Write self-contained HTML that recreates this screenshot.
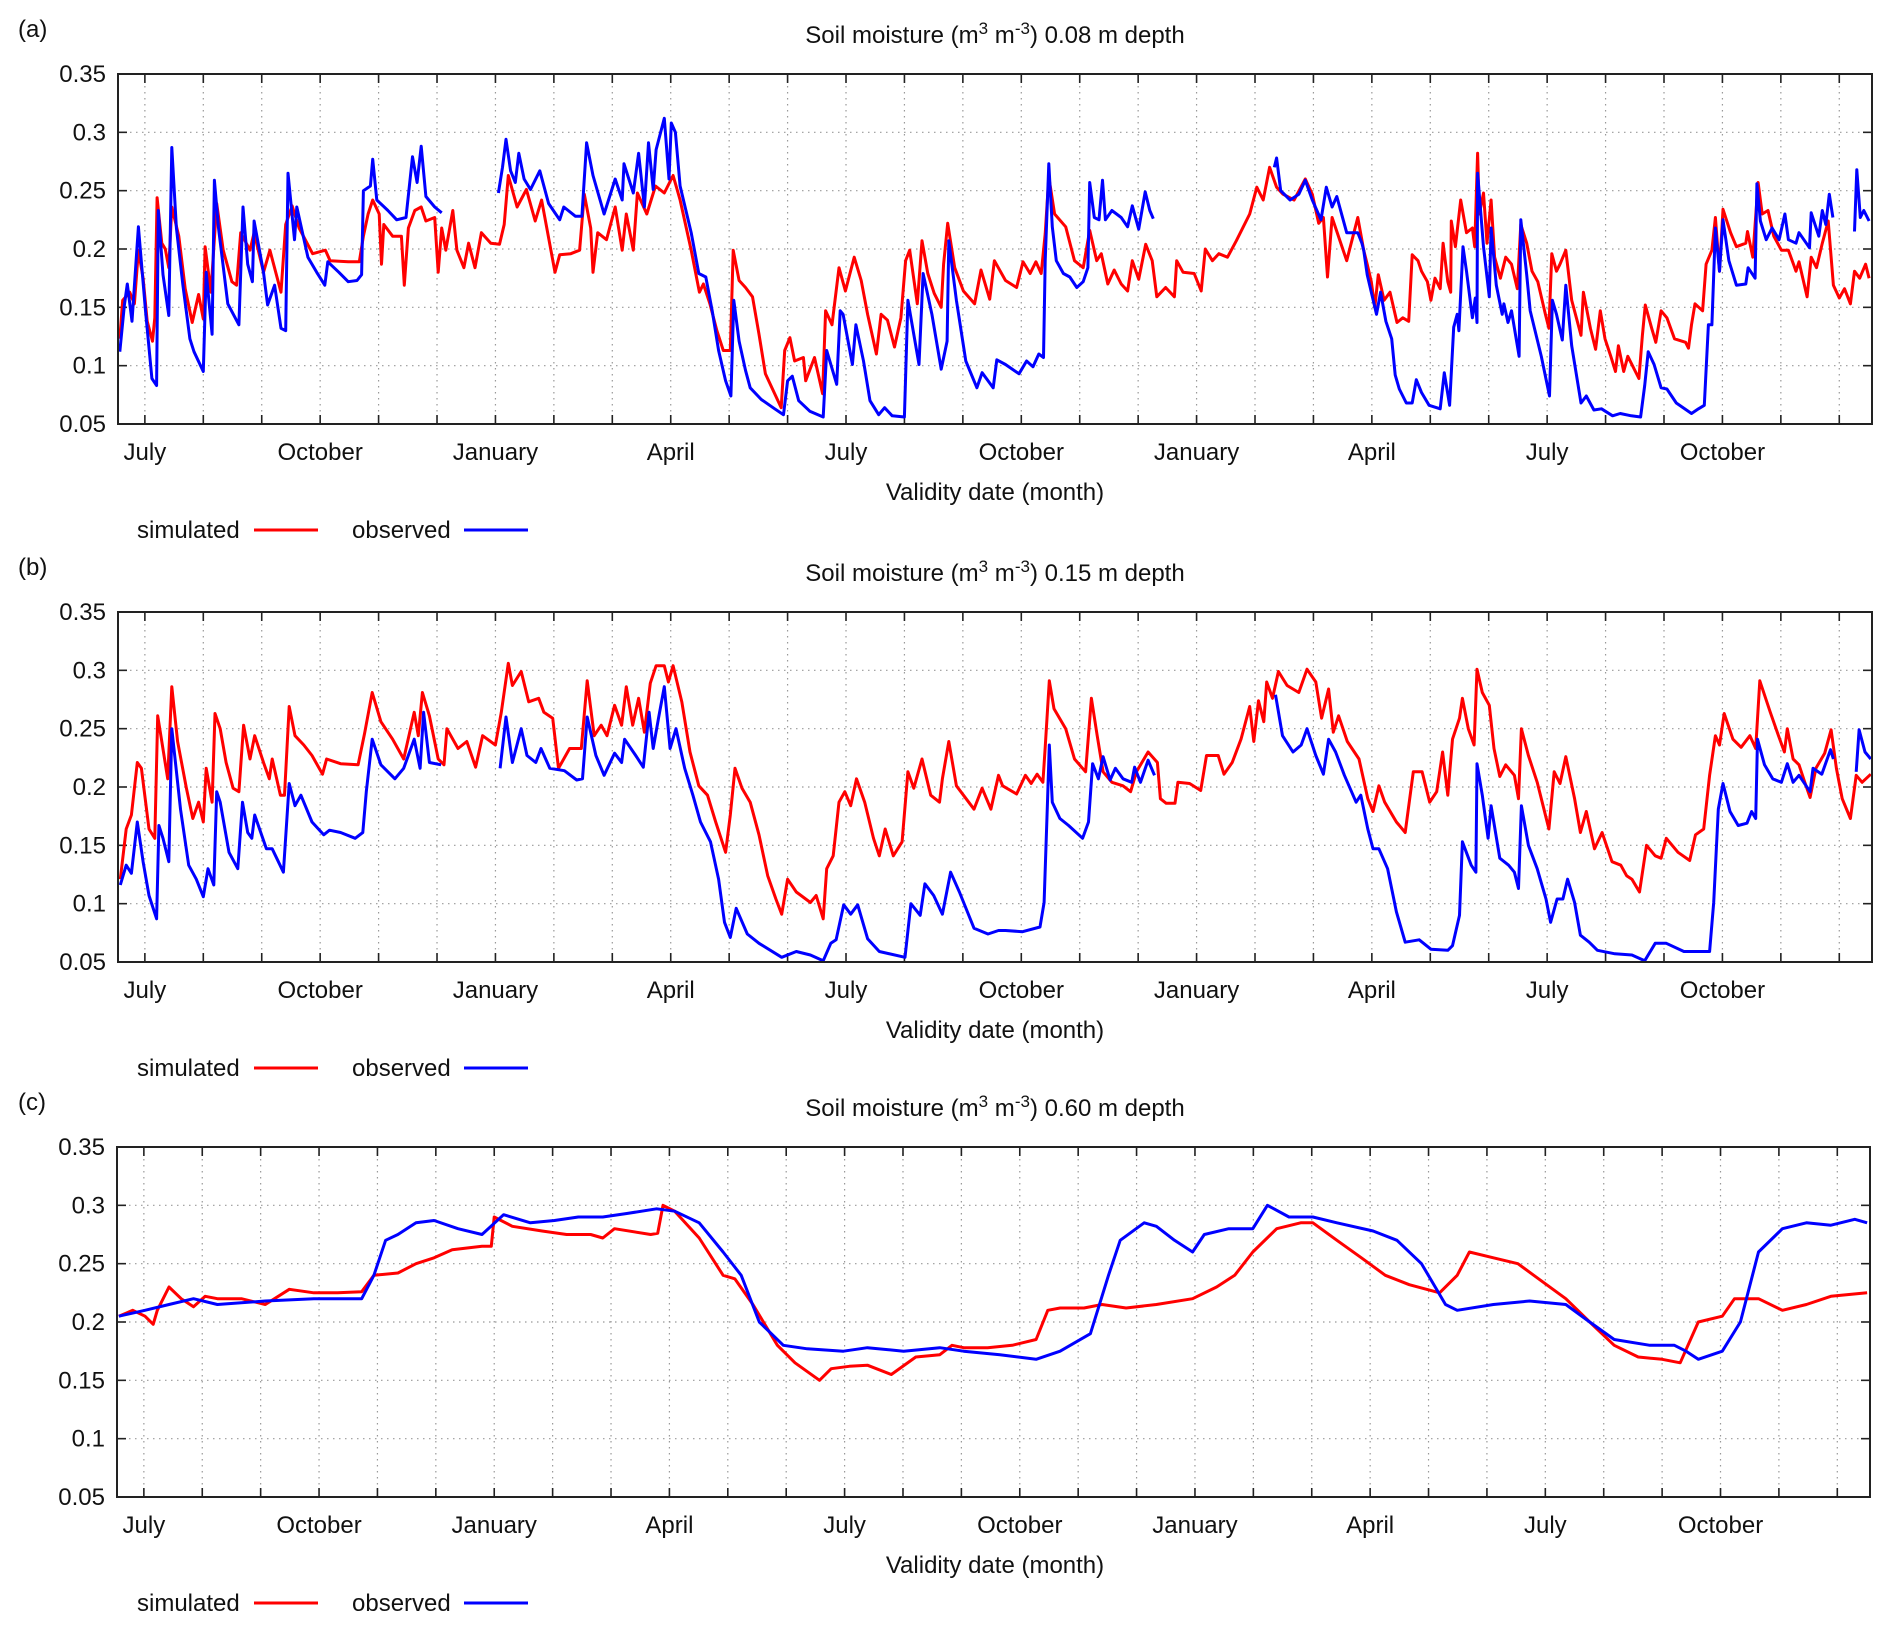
<!DOCTYPE html>
<html><head><meta charset="utf-8"><title>Soil moisture</title>
<style>
html,body{margin:0;padding:0;background:#fff;}
svg{display:block;font-family:"Liberation Sans",Arial,sans-serif;}
</style></head>
<body>
<svg id="chart" width="1892" height="1631" viewBox="0 0 1892 1631" xmlns="http://www.w3.org/2000/svg"></svg>
<script>
// ---------- data (months since 1 July of year 1, volumetric soil moisture) ----------
const monthLabels = ["July","October","January","April","July","October","January","April","July","October"];
const yTicks = [0.05,0.1,0.15,0.2,0.25,0.3,0.35];
const yTickLabels = ["0.05","0.1","0.15","0.2","0.25","0.3","0.35"];
const panelTitles = ["0.08 m depth","0.15 m depth","0.60 m depth"];
const panelLetters = ["(a)","(b)","(c)"];

const simA = [[-0.43,.123],[-0.38,.156],[-0.26,.163],[-0.18,.153],[-0.11,.199],[-0.03,.175],[0.04,.138],[0.13,.121],[0.17,.141],[0.21,.244],[0.29,.205],[0.35,.2],[0.41,.184],[0.46,.236],[0.58,.211],[0.69,.166],[0.81,.137],[0.92,.161],[1.0,.14],[1.03,.202],[1.13,.163],[1.23,.239],[1.34,.199],[1.49,.172],[1.57,.169],[1.64,.214],[1.8,.199],[1.87,.214],[2.03,.18],[2.14,.199],[2.33,.163],[2.41,.221],[2.52,.237],[2.64,.218],[2.87,.196],[3.09,.199],[3.17,.19],[3.48,.189],[3.67,.189],[3.74,.211],[3.82,.23],[3.9,.242],[4.01,.23],[4.05,.187],[4.09,.221],[4.24,.211],[4.39,.211],[4.44,.169],[4.51,.218],[4.62,.233],[4.73,.236],[4.81,.224],[4.96,.227],[5.02,.18],[5.08,.218],[5.15,.199],[5.27,.233],[5.34,.199],[5.46,.184],[5.54,.205],[5.65,.184],[5.76,.214],[5.92,.205],[6.07,.204],[6.15,.221],[6.22,.263],[6.37,.236],[6.53,.251],[6.68,.224],[6.79,.242],[7.02,.18],[7.1,.195],[7.29,.196],[7.44,.199],[7.52,.247],[7.63,.218],[7.67,.18],[7.75,.214],[7.9,.208],[8.05,.236],[8.17,.199],[8.24,.23],[8.36,.199],[8.43,.248],[8.59,.23],[8.74,.254],[8.89,.248],[9.04,.263],[9.16,.242],[9.35,.199],[9.49,.163],
[9.56,.17],[9.67,.153],[9.79,.13],[9.9,.113],[10.02,.113],[10.07,.199],[10.17,.173],[10.28,.167],[10.4,.159],[10.51,.127],[10.62,.093],[10.78,.076],[10.89,.064],[10.95,.113],[11.04,.124],[11.12,.104],[11.27,.107],[11.31,.087],[11.46,.107],[11.6,.076],[11.65,.147],[11.76,.135],[11.88,.184],[11.99,.164],[12.14,.193],[12.26,.173],[12.37,.144],[12.52,.11],[12.6,.144],[12.71,.139],[12.83,.116],[12.94,.141],[13.02,.19],[13.09,.199],[13.22,.153],[13.3,.207],[13.4,.179],[13.51,.162],[13.63,.15],[13.67,.187],[13.74,.222],[13.86,.184],[14.01,.164],[14.2,.153],[14.31,.182],[14.46,.157],[14.54,.19],[14.73,.173],[14.92,.167],[15.03,.189],[15.15,.179],[15.25,.189],[15.34,.179],[15.41,.213],[15.47,.262],[15.57,.23],[15.76,.219],[15.91,.19],[16.06,.184],[16.17,.216],[16.29,.19],[16.37,.196],[16.48,.17],[16.59,.182],[16.71,.17],[16.82,.164],[16.9,.19],[17.01,.174],[17.13,.204],[17.24,.19],[17.32,.159],[17.47,.167],[17.62,.159],[17.66,.19],[17.77,.18],[17.96,.179],[18.08,.164],[18.15,.2],[18.27,.19],[18.38,.196],[18.53,.193],[18.68,.207],[18.8,.219],[18.91,.23],[19.03,.253],[19.14,.242],[19.25,.27],[19.37,.253],[19.48,.247],[19.67,.242],[19.86,.26],[19.98,.247],[20.09,.222],[20.17,.227],[20.24,.176],[20.32,.227],[20.57,.19],
[20.76,.227],[20.86,.199],[20.92,.187],[20.99,.172],[21.05,.15],[21.11,.178],[21.21,.156],[21.31,.163],[21.43,.137],[21.53,.141],[21.63,.138],[21.69,.195],[21.79,.19],[21.85,.181],[21.95,.172],[22.01,.156],[22.08,.175],[22.17,.166],[22.22,.205],[22.3,.172],[22.35,.163],[22.36,.224],[22.43,.202],[22.52,.242],[22.62,.214],[22.72,.218],[22.76,.202],[22.81,.282],[22.84,.23],[22.91,.248],[22.97,.205],[23.04,.242],[23.1,.193],[23.2,.175],[23.29,.193],[23.39,.187],[23.49,.166],[23.55,.221],[23.65,.205],[23.74,.181],[23.84,.172],[23.97,.144],[24.03,.132],[24.08,.196],[24.16,.181],[24.22,.187],[24.32,.199],[24.42,.156],[24.58,.126],[24.62,.163],[24.74,.132],[24.83,.114],[24.91,.147],[24.99,.123],[25.09,.108],[25.17,.095],[25.22,.117],[25.31,.095],[25.38,.108],[25.51,.095],[25.57,.089],[25.63,.126],[25.68,.152],[25.79,.132],[25.86,.12],[25.95,.147],[26.05,.141],[26.18,.123],[26.37,.12],[26.42,.115],[26.47,.135],[26.53,.153],[26.66,.147],[26.72,.187],[26.82,.199],[26.88,.227],[26.95,.181],[27.01,.234],[27.14,.214],[27.24,.202],[27.4,.205],[27.43,.215],[27.52,.193],[27.61,.257],[27.68,.23],[27.78,.233],[27.88,.211],[28.01,.199],[28.13,.199],[28.26,.181],[28.31,.189],[28.45,.159],[28.52,.193],[28.61,.184],[28.71,.205],[28.81,.224],[28.9,.169],[29.0,.158],[29.09,.166],[29.19,.153],[29.26,.181],[29.35,.175],[29.45,.187],[29.51,.175]];

const obsA = [[-0.43,.112],[-0.35,.152],[-0.3,.17],[-0.22,.138],[-0.11,.219],[0.01,.147],[0.12,.089],[0.2,.083],[0.23,.233],[0.31,.178],[0.41,.143],[0.46,.287],[0.54,.218],[0.65,.169],[0.77,.123],[0.84,.112],[1.0,.095],[1.05,.18],[1.15,.127],[1.19,.259],[1.26,.218],[1.42,.153],[1.61,.135],[1.68,.236],[1.76,.187],[1.84,.172],[1.87,.224],[2.03,.18],[2.1,.152],[2.22,.169],[2.33,.132],[2.41,.13],[2.45,.265],[2.56,.208],[2.6,.236],[2.79,.193],[2.94,.18],[3.08,.169],[3.13,.189],[3.32,.18],[3.48,.172],[3.63,.173],[3.71,.178],[3.74,.25],[3.86,.254],[3.9,.277],[3.97,.242],[4.16,.233],[4.31,.225],[4.47,.227],[4.58,.279],[4.66,.257],[4.73,.288],[4.81,.245],[4.96,.236],[5.08,.231],null,
[6.05,.248],[6.12,.27],[6.18,.294],[6.26,.267],[6.34,.257],[6.4,.282],[6.49,.26],[6.6,.251],[6.76,.267],[6.91,.239],[7.1,.225],[7.17,.236],[7.37,.228],[7.48,.228],[7.56,.291],[7.67,.263],[7.86,.23],[8.05,.26],[8.17,.242],[8.2,.273],[8.36,.248],[8.45,.282],[8.55,.236],[8.62,.291],[8.7,.251],[8.75,.285],[8.89,.312],[8.97,.26],[9.01,.308],[9.08,.3],[9.16,.254],[9.35,.214],[9.48,.179],[9.6,.176],[9.71,.147],[9.82,.113],[9.94,.087],[10.03,.074],[10.08,.156],[10.17,.121],[10.28,.096],[10.36,.081],[10.55,.071],[10.78,.063],[10.93,.058],[11.0,.087],[11.08,.091],[11.19,.07],[11.38,.061],[11.61,.056],[11.67,.113],[11.84,.084],[11.9,.147],[11.95,.144],[12.11,.101],[12.17,.135],[12.3,.104],[12.41,.07],[12.56,.058],[12.66,.064],[12.79,.057],[13.0,.056],[13.06,.156],[13.25,.101],[13.32,.179],[13.47,.144],[13.63,.097],[13.73,.121],[13.76,.207],[13.89,.156],[14.05,.104],[14.24,.081],[14.33,.094],[14.52,.081],[14.58,.105],[14.73,.101],[14.96,.093],[15.09,.104],[15.2,.099],[15.3,.11],[15.38,.107],[15.41,.19],[15.47,.273],[15.53,.219],[15.6,.19],[15.72,.179],[15.83,.176],[15.95,.167],[16.06,.172],[16.14,.184],[16.17,.257],[16.25,.227],[16.33,.225],[16.39,.259],[16.44,.225],[16.55,.233],[16.71,.227],[16.82,.219],[16.9,.237],[17.01,.217],[17.12,.249],[17.2,.233],[17.26,.226],null,
[19.33,.27],[19.37,.278],[19.44,.25],[19.6,.242],[19.75,.247],[19.86,.259],[19.98,.242],[20.13,.225],[20.22,.253],[20.32,.236],[20.4,.245],[20.57,.214],[20.76,.214],[20.83,.205],[20.86,.199],[20.92,.178],[20.99,.163],[21.08,.144],[21.15,.163],[21.24,.138],[21.34,.123],[21.4,.092],[21.47,.08],[21.59,.068],[21.69,.068],[21.76,.088],[21.85,.077],[21.98,.066],[22.17,.063],[22.24,.094],[22.33,.066],[22.4,.133],[22.46,.144],[22.49,.13],[22.56,.202],[22.62,.181],[22.72,.141],[22.77,.158],[22.8,.137],[22.81,.265],[22.91,.202],[23.01,.159],[23.04,.218],[23.13,.169],[23.23,.144],[23.26,.153],[23.33,.137],[23.39,.147],[23.52,.108],[23.55,.225],[23.65,.178],[23.71,.147],[23.9,.108],[24.04,.074],[24.09,.156],[24.16,.144],[24.26,.122],[24.32,.169],[24.42,.117],[24.58,.068],[24.67,.074],[24.8,.062],[24.93,.063],[25.12,.057],[25.25,.059],[25.44,.057],[25.6,.056],[25.67,.083],[25.73,.112],[25.83,.101],[25.95,.081],[26.05,.08],[26.21,.068],[26.47,.059],[26.59,.063],[26.69,.066],[26.76,.135],[26.82,.135],[26.88,.218],[26.95,.181],[27.01,.225],[27.11,.19],[27.24,.169],[27.4,.17],[27.44,.184],[27.56,.175],[27.59,.256],[27.65,.224],[27.75,.208],[27.85,.218],[27.97,.208],[28.07,.23],[28.13,.208],[28.26,.205],[28.31,.214],[28.49,.201],[28.52,.231],[28.65,.211],[28.71,.233],[28.77,.221],[28.83,.247],[28.89,.227],null,
[29.26,.215],[29.3,.268],[29.36,.227],[29.42,.233],[29.51,.224]];

const simB = [[-0.42,.121],[-0.32,.164],[-0.23,.176],[-0.13,.221],[-0.06,.216],[0.07,.164],[0.17,.156],[0.22,.261],[0.29,.239],[0.39,.207],[0.46,.286],[0.56,.239],[0.71,.199],[0.82,.173],[0.92,.187],[1.0,.17],[1.05,.216],[1.15,.187],[1.2,.263],[1.29,.25],[1.39,.221],[1.51,.199],[1.61,.196],[1.69,.253],[1.8,.224],[1.88,.244],[2.03,.221],[2.13,.207],[2.18,.224],[2.32,.193],[2.39,.193],[2.47,.269],[2.57,.244],[2.72,.236],[2.86,.227],[3.04,.211],[3.11,.224],[3.35,.22],[3.65,.219],[3.76,.246],[3.89,.281],[4.04,.256],[4.24,.241],[4.43,.224],[4.61,.264],[4.68,.244],[4.75,.281],[4.87,.261],[5.02,.224],[5.12,.219],[5.17,.25],[5.36,.233],[5.51,.239],[5.66,.217],[5.78,.244],[6.0,.236],[6.1,.264],[6.22,.306],[6.29,.287],[6.44,.299],[6.57,.273],[6.74,.276],[6.83,.264],[6.98,.259],[7.08,.216],[7.27,.233],[7.47,.233],[7.57,.291],[7.69,.244],[7.81,.253],[7.91,.244],[8.04,.27],[8.16,.253],[8.24,.286],[8.35,.253],[8.45,.276],[8.55,.247],[8.65,.289],[8.75,.304],[8.89,.304],[8.96,.29],[9.04,.304],[9.19,.273],[9.33,.23],[9.48,.201],[9.63,.193],[9.77,.17],[9.94,.144],[10.02,.176],[10.1,.216],[10.22,.199],[10.36,.187],[10.51,.159],[10.66,.124],[10.8,.104],[10.9,.091],[11.0,.121],[11.15,.11],[11.39,.101],[11.49,.107],[11.61,.087],[11.67,.13],[11.78,.141],[11.88,.187],[11.98,.196],[12.08,.184],[12.18,.207],[12.32,.187],[12.47,.156],[12.57,.141],[12.67,.164],[12.81,.141],[12.96,.153],[13.06,.213],[13.16,.199],[13.3,.224],[13.45,.193],[13.6,.187],[13.65,.207],[13.76,.239],[13.89,.201],[14.19,.181],[14.33,.199],[14.48,.181],[14.61,.21],
[14.68,.201],[14.92,.194],[15.07,.21],[15.17,.203],[15.27,.211],[15.37,.204],[15.41,.234],[15.48,.291],[15.56,.267],[15.76,.25],[15.91,.224],[16.1,.213],[16.2,.276],[16.3,.244],[16.4,.213],[16.55,.204],[16.74,.201],[16.87,.196],[16.97,.213],[17.17,.23],[17.33,.221],[17.38,.19],[17.48,.186],[17.63,.186],[17.68,.204],[17.88,.203],[18.07,.197],[18.17,.227],[18.37,.227],[18.47,.211],[18.61,.221],[18.76,.241],[18.91,.269],[18.98,.239],[19.06,.274],[19.15,.256],[19.2,.29],[19.3,.276],[19.4,.299],[19.55,.287],[19.75,.281],[19.89,.301],[20.04,.29],[20.14,.259],[20.26,.284],[20.34,.247],[20.43,.261],[20.58,.239],[20.78,.224],[20.93,.19],[21.02,.179],[21.12,.201],[21.22,.187],[21.42,.17],[21.57,.161],[21.71,.213],[21.86,.213],[21.99,.187],[22.11,.196],[22.21,.23],[22.3,.193],[22.38,.241],[22.5,.259],[22.55,.276],[22.65,.25],[22.75,.236],[22.8,.301],[22.89,.281],[23.01,.27],[23.09,.233],[23.19,.209],[23.29,.219],[23.44,.21],[23.51,.19],[23.56,.25],[23.68,.227],[23.83,.204],[24.03,.164],[24.12,.213],[24.22,.203],[24.32,.226],[24.47,.19],[24.57,.161],[24.67,.179],[24.81,.147],[24.94,.161],[25.11,.136],[25.26,.133],[25.36,.124],[25.45,.121],[25.58,.11],[25.7,.15],[25.85,.141],[25.95,.139],[26.04,.156],[26.24,.144],[26.44,.137],[26.54,.159],[26.68,.164],[26.78,.21],[26.88,.244],[26.95,.236],[27.03,.263],[27.18,.241],[27.32,.234],[27.47,.244],[27.57,.233],[27.64,.291],[27.82,.264],[27.96,.244],[28.06,.23],[28.11,.25],[28.21,.224],[28.31,.219],[28.41,.204],[28.5,.191],[28.6,.216],[28.75,.229],[28.86,.249],[28.95,.216],[29.05,.19],[29.19,.173],[29.29,.21],[29.39,.204],[29.54,.211]];

const obsB = [[-0.42,.116],[-0.32,.133],[-0.23,.126],[-0.13,.17],[-0.03,.136],[0.07,.107],[0.2,.087],[0.24,.167],[0.31,.156],[0.41,.136],[0.46,.25],[0.61,.181],[0.75,.133],[0.88,.121],[1.0,.106],[1.08,.13],[1.18,.116],[1.23,.196],[1.29,.187],[1.44,.144],[1.59,.13],[1.67,.187],[1.76,.161],[1.83,.156],[1.88,.176],[2.08,.147],[2.18,.147],[2.37,.127],[2.47,.203],[2.57,.184],[2.67,.193],[2.86,.17],[3.06,.159],[3.16,.163],[3.35,.161],[3.6,.156],[3.73,.161],[3.79,.196],[3.89,.241],[4.04,.219],[4.28,.207],[4.43,.216],[4.61,.241],[4.71,.216],[4.77,.264],[4.87,.221],[5.07,.219],null,
[6.08,.216],[6.18,.26],[6.29,.221],[6.44,.25],[6.54,.227],[6.69,.221],[6.78,.233],[6.93,.216],[7.18,.214],[7.39,.206],[7.49,.207],[7.57,.26],[7.72,.227],[7.86,.21],[8.04,.229],[8.16,.221],[8.21,.241],[8.4,.227],[8.53,.217],[8.63,.264],[8.7,.233],[8.79,.259],[8.89,.286],[8.99,.233],[9.09,.25],[9.24,.216],[9.38,.193],[9.51,.17],[9.68,.153],[9.82,.121],[9.92,.084],[10.02,.071],[10.12,.096],[10.31,.074],[10.51,.066],[10.9,.054],[11.15,.059],[11.39,.056],[11.61,.051],[11.74,.066],[11.83,.069],[11.96,.099],[12.08,.091],[12.2,.099],[12.37,.07],[12.57,.059],[13.01,.054],[13.11,.1],[13.27,.09],[13.35,.117],[13.5,.107],[13.65,.091],[13.79,.127],[13.94,.11],[14.19,.079],[14.43,.074],[14.61,.077],[14.73,.077],[15.02,.076],[15.32,.08],[15.39,.101],[15.45,.19],[15.48,.236],[15.53,.187],[15.66,.173],[15.81,.167],[16.05,.156],[16.15,.17],[16.22,.22],[16.32,.207],[16.4,.226],[16.52,.206],[16.61,.216],[16.74,.207],[16.89,.204],[16.94,.217],[17.04,.204],[17.17,.223],[17.28,.21],null,
[19.35,.279],[19.47,.244],[19.65,.23],[19.79,.236],[19.89,.25],[20.04,.227],[20.17,.211],[20.26,.241],[20.38,.23],[20.53,.21],[20.73,.187],[20.81,.193],[20.93,.164],[21.02,.147],[21.12,.147],[21.27,.13],[21.42,.093],[21.57,.067],[21.81,.069],[22.01,.061],[22.3,.06],[22.38,.064],[22.5,.09],[22.55,.153],[22.7,.133],[22.78,.127],[22.8,.22],[22.89,.193],[22.99,.156],[23.04,.184],[23.19,.139],[23.34,.133],[23.44,.127],[23.51,.113],[23.56,.184],[23.68,.15],[23.83,.13],[23.98,.104],[24.06,.084],[24.17,.104],[24.27,.104],[24.35,.121],[24.47,.101],[24.57,.073],[24.72,.067],[24.86,.06],[25.16,.057],[25.45,.056],[25.67,.051],[25.85,.066],[26.04,.066],[26.34,.059],[26.78,.059],[26.85,.101],[26.93,.181],[27.01,.203],[27.13,.179],[27.27,.167],[27.42,.169],[27.5,.179],[27.57,.173],[27.6,.241],[27.72,.219],[27.86,.207],[28.01,.204],[28.11,.22],[28.21,.204],[28.31,.21],[28.5,.196],[28.55,.216],[28.7,.211],[28.85,.232],[28.9,.224],null,
[29.29,.213],[29.34,.249],[29.44,.23],[29.54,.224]];

const simC = [[-0.43,.205],[-0.19,.21],[0.02,.205],[0.16,.198],[0.23,.21],[0.43,.23],[0.64,.22],[0.85,.213],[1.05,.222],[1.26,.22],[1.67,.22],[2.08,.215],[2.49,.228],[2.91,.225],[3.32,.225],[3.73,.226],[3.94,.24],[4.35,.242],[4.66,.25],[4.97,.255],[5.28,.262],[5.79,.265],[5.95,.265],[6.0,.29],[6.31,.282],[6.82,.278],[7.24,.275],[7.65,.275],[7.86,.272],[8.06,.28],[8.68,.275],[8.8,.276],[8.89,.3],[9.09,.295],[9.51,.272],[9.92,.24],[10.12,.237],[10.43,.215],[10.85,.18],[11.15,.165],[11.57,.15],[11.77,.16],[12.08,.162],[12.39,.163],[12.8,.155],[13.22,.17],[13.63,.172],[13.84,.18],[14.04,.178],[14.45,.178],[14.87,.18],[15.28,.185],[15.48,.21],[15.69,.212],[16.1,.212],[16.41,.215],[16.82,.212],[17.34,.215],[17.96,.22],[18.37,.23],[18.68,.24],[18.99,.26],[19.4,.28],[19.81,.285],[20.02,.285],[20.43,.27],[20.85,.255],[21.26,.24],[21.67,.232],[22.19,.225],[22.49,.24],[22.7,.26],[23.11,.255],[23.53,.25],[23.94,.235],[24.35,.22],[24.76,.2],[25.18,.18],[25.59,.17],[26.0,.168],[26.31,.165],[26.62,.2],[27.03,.205],[27.24,.22],[27.65,.22],[28.06,.21],[28.47,.215],[28.89,.222],[29.51,.225]];

const obsC = [[-0.43,.205],[0.02,.21],[0.43,.215],[0.85,.22],[1.26,.215],[2.08,.218],[2.91,.22],[3.73,.22],[3.94,.24],[4.14,.27],[4.35,.275],[4.66,.285],[4.97,.287],[5.38,.28],[5.79,.275],[6.16,.292],[6.62,.285],[7.03,.287],[7.44,.29],[7.86,.29],[8.27,.293],[8.78,.297],[9.09,.295],[9.51,.285],[9.92,.26],[10.23,.24],[10.54,.2],[10.95,.18],[11.36,.177],[11.98,.175],[12.39,.178],[13.01,.175],[13.63,.178],[14.04,.175],[14.66,.172],[15.28,.168],[15.69,.175],[16.21,.19],[16.52,.24],[16.72,.27],[17.13,.285],[17.34,.282],[17.65,.27],[17.96,.26],[18.16,.275],[18.58,.28],[18.99,.28],[19.24,.3],[19.61,.29],[20.02,.29],[20.43,.285],[21.05,.278],[21.46,.27],[21.88,.25],[22.29,.215],[22.49,.21],[23.11,.215],[23.73,.218],[24.35,.215],[24.76,.2],[25.18,.185],[25.79,.18],[26.21,.18],[26.41,.175],[26.62,.168],[27.03,.175],[27.34,.2],[27.65,.26],[28.06,.28],[28.47,.285],[28.89,.283],[29.3,.288],[29.51,.285]];

const simSeries = [simA, simB, simC];
const obsSeries = [obsA, obsB, obsC];

// ---------- layout ----------
const NS = "http://www.w3.org/2000/svg";
const svg = document.getElementById("chart");
const panels = [
  {left:118, right:1872, top:74, bottom:424},
  {left:118, right:1872, top:612, bottom:962},
  {left:117, right:1870, top:1147, bottom:1497}
];
const mMin = -0.46, mMax = 29.56, vMin = 0.05, vMax = 0.35;
const FS = 24;

function mk(tag, attrs, parent) {
  const e = document.createElementNS(NS, tag);
  for (const k in attrs) e.setAttribute(k, attrs[k]);
  (parent || svg).appendChild(e);
  return e;
}

panels.forEach((p, i) => {
  const xs = m => p.left + (m - mMin) / (mMax - mMin) * (p.right - p.left);
  const ys = v => p.bottom - (v - vMin) / (vMax - vMin) * (p.bottom - p.top);
  const g = mk("g", {});
  
  

  const grid = mk("g", {stroke:"#999", "stroke-width":1.2, "stroke-dasharray":"1.5,4.5"}, g);
  
  
  for (let mo = 0; mo <= 29; mo++) {
    mk("line", {x1:xs(mo), x2:xs(mo), y1:p.top, y2:p.bottom}, grid);
  }
  yTicks.forEach(v => { if (v > vMin && v < vMax) mk("line", {x1:p.left, x2:p.right, y1:ys(v), y2:ys(v)}, grid); });

  const ticks = mk("g", {stroke:"#222", "stroke-width":1.6}, g);
  
  
  for (let mo = 0; mo <= 29; mo++) {
    mk("line", {x1:xs(mo), x2:xs(mo), y1:p.bottom, y2:p.bottom - 9}, ticks);
    mk("line", {x1:xs(mo), x2:xs(mo), y1:p.top, y2:p.top + 9}, ticks);
  }
  yTicks.forEach(v => {
    mk("line", {x1:p.left, x2:p.left + 9, y1:ys(v), y2:ys(v)}, ticks);
    mk("line", {x1:p.right, x2:p.right - 9, y1:ys(v), y2:ys(v)}, ticks);
  });

  yTicks.forEach((v, k) => {
    const t = mk("text", {x:p.left - 12, y:ys(v) + 8, "text-anchor":"end", "font-size":FS, fill:"#111"}, g);
    
    
    t.textContent = yTickLabels[k];
  });
  monthLabels.forEach((lab, k) => {
    const t = mk("text", {x:xs(k * 3), y:p.bottom + 36, "text-anchor":"middle", "font-size":FS, fill:"#111"}, g);
    
    
    t.textContent = lab;
  });

  function drawSeries(data, color, name) {
    let d = "", pen = false;
    data.forEach(pt => {
      if (pt === null) { pen = false; return; }
      d += (pen ? "L" : "M") + xs(pt[0]).toFixed(1) + "," + ys(pt[1]).toFixed(1);
      pen = true;
    });
    const path = mk("path", {d:d, fill:"none", stroke:color, "stroke-width":3, "stroke-linejoin":"round"}, g);
    
    
  }
  drawSeries(simSeries[i], "#ff0000", "simulated-line");
  drawSeries(obsSeries[i], "#0000ff", "observed-line");

  const fr = mk("rect", {x:p.left, y:p.top, width:p.right - p.left, height:p.bottom - p.top, fill:"none", stroke:"#222", "stroke-width":2}, g);
  
  

  const L = mk("text", {x:18, y:p.top - 37, "font-size":FS, fill:"#111"}, g);
  
  
  L.textContent = panelLetters[i];

  const T = mk("text", {x:995, y:p.top - 31, "text-anchor":"middle", "font-size":FS, fill:"#111"}, g);
  
  
  T.innerHTML = 'Soil moisture (m<tspan dy="-9" font-size="17">3</tspan><tspan dy="9"> m</tspan><tspan dy="-9" font-size="17">-3</tspan><tspan dy="9">) ' + panelTitles[i] + '</tspan>';

  const A = mk("text", {x:995, y:p.bottom + 76, "text-anchor":"middle", "font-size":FS, fill:"#111"}, g);
  
  
  A.textContent = "Validity date (month)";

  const lg = mk("g", {}, g);
  
  
  const ly = p.bottom + 114;
  const t1 = mk("text", {x:137, y:ly, "font-size":FS, fill:"#111"}, lg);
  
  
  t1.textContent = "simulated";
  const l1 = mk("line", {x1:254, x2:318, y1:ly - 8, y2:ly - 8, stroke:"#ff0000", "stroke-width":3}, lg);
  
  
  const t2 = mk("text", {x:352, y:ly, "font-size":FS, fill:"#111"}, lg);
  
  
  t2.textContent = "observed";
  const l2 = mk("line", {x1:464, x2:528, y1:ly - 8, y2:ly - 8, stroke:"#0000ff", "stroke-width":3}, lg);
  
  
});
</script>
</body></html>
